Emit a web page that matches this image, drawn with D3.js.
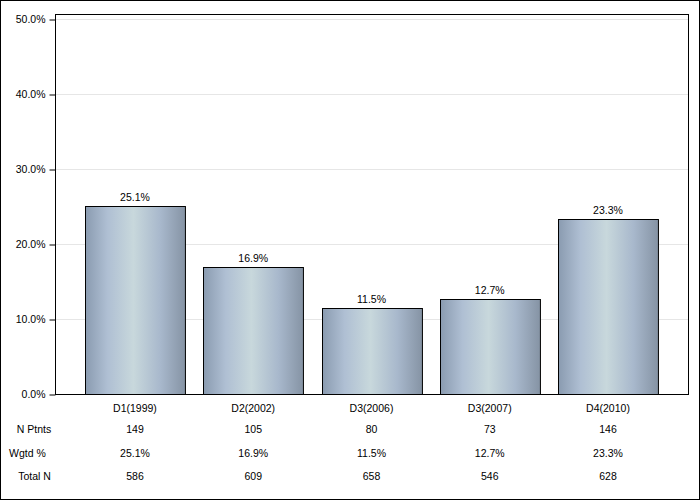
<!DOCTYPE html>
<html>
<head>
<meta charset="utf-8">
<script src="https://cdn.jsdelivr.net/npm/d3@7"></script>
<style>
html,body{margin:0;padding:0;background:#fff;}
svg text{font-family:Arial,"Liberation Sans",sans-serif;font-size:10.5px;fill:#000;}
</style>
</head>
<body>
<svg id="chart" width="700" height="500"></svg>
<script>
const categories = ["D1(1999)","D2(2002)","D3(2006)","D3(2007)","D4(2010)"];
const values = [25.1,16.9,11.5,12.7,23.3];
const nPtnts = ["149","105","80","73","146"];
const wgtd = ["25.1%","16.9%","11.5%","12.7%","23.3%"];
const totalN = ["586","609","658","546","628"];
const yTicks = [0,10,20,30,40,50];
const rowLabels = ["N Ptnts","Wgtd %","Total N"];

const svg = d3.select("#chart");
const L = 55, R = 688, T = 14, B = 394;

const defs = svg.append("defs");
const grad = defs.append("linearGradient").attr("id","barGrad")
  .attr("x1","0%").attr("x2","100%").attr("y1","0%").attr("y2","0%");
[[0,"#8a9bb0"],[0.22,"#afbfd3"],[0.48,"#c8d8dc"],[0.75,"#a8b8cc"],[1,"#8593a4"]]
  .forEach(([o,c])=>grad.append("stop").attr("offset",o).attr("stop-color",c));

svg.append("rect").attr("x",0.5).attr("y",0.5).attr("width",699).attr("height",499)
  .attr("fill","#fff").attr("stroke","#000");

const x = d3.scaleBand().domain(categories).range([L,R]).paddingInner(0.155).paddingOuter(0.254);
const y = d3.scaleLinear().domain([0,50]).range([B,19]);

// grid
svg.append("g").selectAll("line").data(yTicks.filter(d=>d>0)).join("line")
  .attr("x1",L).attr("x2",R).attr("y1",d=>Math.round(y(d))+0.5).attr("y2",d=>Math.round(y(d))+0.5)
  .attr("stroke","#e6e6e6");

// bars
svg.append("g").selectAll("rect").data(values).join("rect")
  .attr("x",(d,i)=>Math.round(x(categories[i]))+0.5)
  .attr("y",d=>Math.round(y(d))+0.5)
  .attr("width",x.bandwidth())
  .attr("height",d=>B-Math.round(y(d)))
  .attr("fill","url(#barGrad)").attr("stroke","#000");

// value labels
svg.append("g").selectAll("text").data(values).join("text")
  .attr("x",(d,i)=>x(categories[i])+x.bandwidth()/2)
  .attr("y",d=>y(d)-5)
  .attr("text-anchor","middle")
  .text(d=>d.toFixed(1)+"%");

// frame
svg.append("rect").attr("x",L+0.5).attr("y",T+0.5).attr("width",R-L).attr("height",B-T)
  .attr("fill","none").attr("stroke","#000");

// y axis
const yAxis = d3.axisLeft(y).tickValues(yTicks).tickSize(6).tickPadding(4)
  .tickFormat(d=>d.toFixed(1)+"%");
const ga = svg.append("g").attr("transform",`translate(${L+0.5},0.5)`).call(yAxis);
ga.select(".domain").remove();
ga.selectAll("text").style("font-size","10.5px").style("font-family","Arial, 'Liberation Sans', sans-serif").attr("fill","#000");
ga.selectAll("line").attr("stroke","#000");

// table
const rowsY = [408,429,453,476];
const cx = (i)=>x(categories[i])+x.bandwidth()/2;
const table = svg.append("g");
table.selectAll("text.cat").data(categories).join("text").attr("class","cat")
  .attr("x",(d,i)=>cx(i)).attr("y",rowsY[0]).attr("dy","0.35em").attr("text-anchor","middle").text(d=>d);
[nPtnts,wgtd,totalN].forEach((arr,r)=>{
  table.append("g").selectAll("text").data(arr).join("text")
    .attr("x",(d,i)=>cx(i)).attr("y",rowsY[r+1]).attr("dy","0.35em").attr("text-anchor","middle").text(d=>d);
});
const rowLabelX = [34,27.5,34.5];
table.append("g").selectAll("text").data(rowLabels).join("text")
  .attr("x",(d,i)=>rowLabelX[i]).attr("y",(d,i)=>rowsY[i+1]).attr("dy","0.35em")
  .attr("text-anchor","middle").text(d=>d);
</script>
</body>
</html>
